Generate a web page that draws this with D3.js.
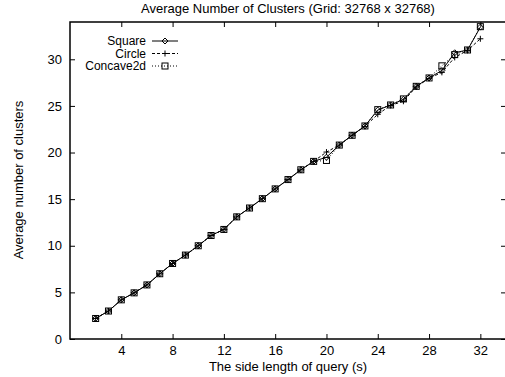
<!DOCTYPE html>
<html>
<head>
<meta charset="utf-8">
<script src="https://cdn.jsdelivr.net/npm/d3@7"></script>
<style>
  body { margin: 0; background: #fff; }
  text { font-family: "Liberation Sans", Arial, sans-serif; font-size: 13px; fill: #000; }
</style>
</head>
<body>
<div id="chart"></div>
<script>
// DATA ------------------------------
const sides = [2, 3, 4, 5, 6, 7, 8, 9, 10, 11, 12, 13, 14, 15, 16, 17, 18, 19, 20, 21, 22, 23, 24, 25, 26, 27, 28, 29, 30, 31, 32];
const square = [2.2, 3.0, 4.2, 4.95, 5.8, 7.0, 8.1, 9.0, 10.0, 11.1, 11.75, 13.1, 14.05, 15.05, 16.1, 17.1, 18.15, 19.05, 19.5, 20.8, 21.85, 22.85, 24.55, 25.1, 25.7, 27.1, 28.0, 28.8, 30.7, 31.0, 33.45];
const circle = [2.2, 3.0, 4.2, 4.95, 5.8, 7.0, 8.1, 9.0, 10.0, 11.1, 11.75, 13.1, 14.05, 15.05, 16.1, 17.1, 18.15, 19.05, 20.05, 20.8, 21.85, 22.8, 24.1, 25.05, 25.5, 27.05, 27.95, 28.6, 30.2, 30.95, 32.2];
const concave = [2.2, 3.0, 4.2, 4.95, 5.8, 7.0, 8.1, 9.0, 10.0, 11.1, 11.75, 13.1, 14.05, 15.05, 16.1, 17.1, 18.15, 19.05, 19.15, 20.8, 21.85, 22.85, 24.6, 25.1, 25.75, 27.1, 28.0, 29.3, 30.5, 31.0, 33.5];
const xTicks = [4, 8, 12, 16, 20, 24, 28, 32];
const yTicks = [0, 5, 10, 15, 20, 25, 30];

// CHART INIT ------------------------------
const margin = ({top: 22, right: -1, bottom: 38, left: 70});
const width = 505 - margin.left - margin.right;
const height = 377 - margin.top - margin.bottom;

let root = d3.select('#chart').append('svg')
  .attr('width', 505)
  .attr('height', 377);

let svg = root.append('g')
  .attr("transform", "translate(" + margin.left + "," + margin.top + ")");

let xScale = d3.scaleLinear().domain([0, 34]).range([0, width]);
let yScale = d3.scaleLinear().domain([0, 34]).range([height, 0]);

// inward ticks, gnuplot style
let xAxis = d3.axisBottom(xScale).tickValues(xTicks).tickSizeInner(-5).tickSizeOuter(0).tickPadding(9);
let xAxisTop = d3.axisTop(xScale).tickValues(xTicks).tickSizeInner(-5).tickSizeOuter(0).tickFormat("");
let yAxis = d3.axisLeft(yScale).tickValues(yTicks).tickSizeInner(-5).tickSizeOuter(0).tickPadding(8);
let yAxisRight = d3.axisRight(yScale).tickValues(yTicks).tickSizeInner(-5).tickSizeOuter(0).tickFormat("");

svg.append("g").attr("class", "x-axis axis")
  .attr("transform", "translate(0," + height + ")").call(xAxis);
svg.append("g").attr("class", "x-axis-top axis").call(xAxisTop);
svg.append("g").attr("class", "y-axis axis").call(yAxis);
svg.append("g").attr("class", "y-axis-right axis")
  .attr("transform", "translate(" + width + ",0)").call(yAxisRight);

svg.selectAll(".axis .domain").remove();
svg.selectAll(".axis line").attr("stroke", "#000").attr("stroke-width", 1);
svg.selectAll(".axis text").style("font-size", "13px").attr("fill", "#000");
svg.selectAll(".x-axis text").attr("dy", "0.5em");

svg.append("rect")
  .attr("x", 0).attr("y", 0)
  .attr("width", width).attr("height", height)
  .attr("fill", "none").attr("stroke", "#000").attr("stroke-width", 1.5);

// titles
root.append("text")
  .attr("x", 288).attr("y", 13)
  .attr("text-anchor", "middle")
  .text("Average Number of Clusters (Grid: 32768 x 32768)");

root.append("text")
  .attr("x", 288).attr("y", 371)
  .attr("text-anchor", "middle")
  .text("The side length of query (s)");

root.append("text")
  .attr("transform", "translate(23,180) rotate(-90)")
  .attr("text-anchor", "middle")
  .text("Average number of clusters");

// SERIES ---------------------------
const series = [
  {name: "Square", values: square, dash: null, marker: "diamond"},
  {name: "Circle", values: circle, dash: "3,2", marker: "plus"},
  {name: "Concave2d", values: concave, dash: "1,2", marker: "box"}
];

function drawMarker(g, type, x, y) {
  if (type == "diamond") {
    g.append("path")
      .attr("d", "M" + x + "," + (y - 3) + "L" + (x + 3) + "," + y + "L" + x + "," + (y + 3) + "L" + (x - 3) + "," + y + "Z")
      .attr("fill", "none").attr("stroke", "#000").attr("stroke-width", 1);
  } else if (type == "plus") {
    g.append("path")
      .attr("d", "M" + (x - 3) + "," + y + "H" + (x + 3) + "M" + x + "," + (y - 3) + "V" + (y + 3))
      .attr("fill", "none").attr("stroke", "#000").attr("stroke-width", 1);
  } else {
    g.append("rect")
      .attr("x", x - 3).attr("y", y - 3).attr("width", 6).attr("height", 6)
      .attr("fill", "none").attr("stroke", "#000").attr("stroke-width", 1);
  }
}

let line = d3.line()
  .x(d => xScale(d[0]))
  .y(d => yScale(d[1]));

series.forEach(s => {
  let pts = sides.map((x, i) => [x, s.values[i]]);
  let g = svg.append("g").attr("class", "series");
  g.append("path")
    .attr("d", line(pts))
    .attr("fill", "none")
    .attr("stroke", "#000")
    .attr("stroke-width", 1)
    .attr("stroke-dasharray", s.dash);
  pts.forEach(p => drawMarker(g, s.marker, xScale(p[0]), yScale(p[1])));
});

// LEGEND ---------------------------
let legend = root.append("g").attr("class", "legend");
series.forEach((s, i) => {
  let by = 45 + i * 12.5;
  legend.append("text")
    .attr("x", 146).attr("y", by)
    .attr("text-anchor", "end")
    .style("font-size", "12px")
    .text(s.name);
  legend.append("line")
    .attr("x1", 152).attr("x2", 178)
    .attr("y1", by - 4).attr("y2", by - 4)
    .attr("stroke", "#000").attr("stroke-width", 1)
    .attr("stroke-dasharray", s.dash);
  drawMarker(legend, s.marker, 165, by - 4);
});
</script>
</body>
</html>
